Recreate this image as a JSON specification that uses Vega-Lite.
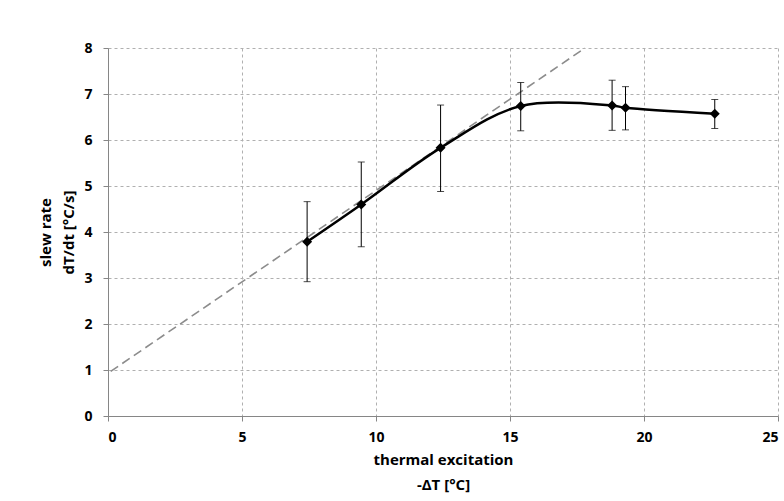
{
  "$schema": "https://vega.github.io/schema/vega-lite/v6.json",
  "width": 670,
  "height": 368,
  "autosize": {"type": "none"},
  "padding": {"left": 108, "top": 48, "right": 6, "bottom": 85},
  "background": "white",
  "config": {
    "view": {"stroke": null},
    "font": "Open Sans",
    "axis": {
      "labelFont": "Open Sans",
      "labelFontWeight": "bold",
      "labelFontSize": 14,
      "labelColor": "black",
      "titleFont": "Open Sans",
      "titleFontWeight": "bold",
      "titleFontSize": 15,
      "titleColor": "black",
      "domainColor": "#868686",
      "tickColor": "#868686",
      "tickSize": 5,
      "gridColor": "#b0b0b0",
      "gridDash": [3, 3],
      "gridWidth": 1
    }
  },
  "datasets": {
    "pts": [
      {"x": 7.43, "y": 3.79, "lo": 2.92, "hi": 4.66},
      {"x": 9.45, "y": 4.6, "lo": 3.68, "hi": 5.52},
      {"x": 12.41, "y": 5.83, "lo": 4.88, "hi": 6.76},
      {"x": 15.4, "y": 6.74, "lo": 6.2, "hi": 7.25},
      {"x": 18.81, "y": 6.75, "lo": 6.21, "hi": 7.3},
      {"x": 19.31, "y": 6.7, "lo": 6.22, "hi": 7.16},
      {"x": 22.64, "y": 6.57, "lo": 6.25, "hi": 6.88}
    ],
    "fit": [
      {"x": 0.1, "y": 0.97},
      {"x": 17.8, "y": 8.0}
    ]
  },
  "layer": [
    {
      "data": {"name": "fit"},
      "mark": {"type": "line", "color": "#8c8c8c", "strokeWidth": 1.6, "strokeDash": [9, 5]},
      "encoding": {
        "x": {
          "field": "x", "type": "quantitative",
          "title": ["thermal excitation", "-ΔT [°C]"],
          "scale": {"domain": [0, 25], "nice": false},
          "axis": {
            "values": [0, 5, 10, 15, 20, 25],
            "titlePadding": 8,
            "titleLineHeight": 25,
            "labelPadding": 9
          }
        },
        "y": {
          "field": "y", "type": "quantitative",
          "title": ["slew rate", "dT/dt [°C/s]"],
          "scale": {"domain": [0, 8], "nice": false},
          "axis": {
            "values": [0, 1, 2, 3, 4, 5, 6, 7, 8],
            "titlePadding": 7,
            "titleLineHeight": 23,
            "labelPadding": 11
          }
        }
      }
    },
    {
      "data": {"name": "pts"},
      "mark": {"type": "line", "color": "black", "strokeWidth": 2.5, "interpolate": "catmull-rom"},
      "encoding": {
        "x": {"field": "x", "type": "quantitative", "title": ["thermal excitation", "-ΔT [°C]"]},
        "y": {"field": "y", "type": "quantitative", "title": ["slew rate", "dT/dt [°C/s]"]}
      }
    },
    {
      "data": {"name": "pts"},
      "mark": {"type": "errorbar", "ticks": {"color": "black", "size": 7}, "rule": {"color": "black", "strokeWidth": 1}},
      "encoding": {
        "x": {"field": "x", "type": "quantitative", "title": ["thermal excitation", "-ΔT [°C]"]},
        "y": {"field": "lo", "type": "quantitative", "title": ["slew rate", "dT/dt [°C/s]"]},
        "y2": {"field": "hi"}
      }
    },
    {
      "data": {"name": "pts"},
      "mark": {"type": "point", "shape": "diamond", "filled": true, "color": "black", "size": 100, "opacity": 1},
      "encoding": {
        "x": {"field": "x", "type": "quantitative", "title": ["thermal excitation", "-ΔT [°C]"]},
        "y": {"field": "y", "type": "quantitative", "title": ["slew rate", "dT/dt [°C/s]"]}
      }
    }
  ]
}
